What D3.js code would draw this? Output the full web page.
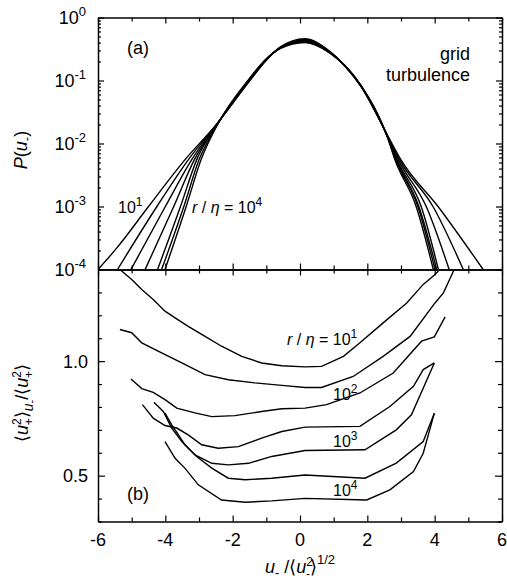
<!DOCTYPE html>
<html>
<head>
<meta charset="utf-8">
<script src="https://cdn.jsdelivr.net/npm/d3@7"></script>
<style>
  body { margin: 0; background: #fff; }
</style>
</head>
<body>
<div id="chart"></div>
<script>
// (a) PDF of u- for r/eta = 10^1, 10^1.5, ... 10^4, pairs [u, P]
const pdfR10 = [[-6.0, 1e-4], [-5.44, 2.2e-4], [-4.5, 1e-3], [-3.42, 5.5e-3], [-2.45, 0.021], [-1.5, 0.098], [-1.0, 0.21], [-0.6, 0.335], [0.15, 0.46], [0.9, 0.285], [1.35, 0.165], [1.8, 0.082], [2.6, 0.0135], [3.0, 5.5e-3], [4.1, 1e-3], [5.44, 1e-4]];
const pdfR15 = [[-5.42, 1e-4], [-4.25, 1e-3], [-3.32, 5.5e-3], [-2.45, 0.021], [-1.5, 0.1], [-1.0, 0.212], [-0.6, 0.332], [0.15, 0.45], [0.9, 0.282], [1.35, 0.166], [1.8, 0.083], [2.6, 0.0133], [2.96, 5.5e-3], [3.95, 1e-3], [4.85, 1e-4]];
const pdfR20 = [[-5.02, 1e-4], [-4.0, 1e-3], [-3.22, 5.5e-3], [-2.45, 0.021], [-1.5, 0.102], [-1.0, 0.214], [-0.6, 0.329], [0.15, 0.44], [0.9, 0.279], [1.35, 0.167], [1.8, 0.083], [2.6, 0.0131], [2.92, 5.5e-3], [3.75, 1e-3], [4.43, 1e-4]];
const pdfR25 = [[-4.6, 1e-4], [-3.75, 1e-3], [-3.14, 5.5e-3], [-2.45, 0.0205], [-1.5, 0.104], [-1.0, 0.216], [-0.6, 0.326], [0.15, 0.43], [0.9, 0.276], [1.35, 0.168], [1.8, 0.084], [2.6, 0.0129], [2.88, 5.5e-3], [3.6, 1e-3], [4.11, 1e-4]];
const pdfR30 = [[-4.23, 1e-4], [-3.55, 1e-3], [-3.07, 5.5e-3], [-2.45, 0.0205], [-1.5, 0.105], [-1.0, 0.218], [-0.6, 0.324], [0.15, 0.42], [0.9, 0.274], [1.35, 0.169], [1.8, 0.084], [2.6, 0.0127], [2.86, 5.5e-3], [3.53, 1e-3], [4.06, 1e-4]];
const pdfR35 = [[-4.11, 1e-4], [-3.45, 1e-3], [-3.0, 5.5e-3], [-2.45, 0.02], [-1.5, 0.106], [-1.0, 0.22], [-0.6, 0.322], [0.15, 0.41], [0.9, 0.272], [1.35, 0.17], [1.8, 0.085], [2.6, 0.0126], [2.84, 5.5e-3], [3.5, 1e-3], [4.01, 1e-4]];
const pdfR40 = [[-4.01, 1e-4], [-3.38, 1e-3], [-2.94, 5.5e-3], [-2.45, 0.02], [-1.5, 0.108], [-1.0, 0.222], [-0.6, 0.32], [0.15, 0.40], [0.9, 0.27], [1.35, 0.17], [1.8, 0.085], [2.6, 0.0125], [2.82, 5.5e-3], [3.45, 1e-3], [3.96, 1e-4]];

// (b) conditional average <u+^2>_{u-}/<u+^2>, pairs [u, value]
const condR10 = [[-5.35, 1.40], [-5.0, 1.356], [-4.7, 1.313], [-4.36, 1.269], [-4.01, 1.218], [-3.71, 1.189], [-3.32, 1.152], [-2.82, 1.108], [-2.33, 1.065], [-1.73, 1.021], [-1.14, 0.992], [-0.54, 0.98], [0.15, 0.975], [0.64, 0.977], [1.29, 1.021], [1.78, 1.08], [2.47, 1.167], [3.17, 1.254], [3.66, 1.335], [4.01, 1.378], [4.11, 1.393]];
const condR15 = [[-5.35, 1.138], [-5.0, 1.124], [-4.7, 1.08], [-4.11, 1.036], [-3.51, 0.992], [-2.82, 0.941], [-2.13, 0.919], [-1.34, 0.905], [-0.54, 0.894], [0.15, 0.885], [0.64, 0.885], [1.58, 0.933], [2.47, 1.021], [3.27, 1.108], [4.01, 1.254], [4.26, 1.298], [4.57, 1.397]];
const condR20 = [[-5.02, 0.922], [-4.7, 0.88], [-4.36, 0.864], [-4.01, 0.832], [-3.66, 0.795], [-3.12, 0.774], [-2.62, 0.758], [-1.93, 0.762], [-1.14, 0.78], [-0.54, 0.792], [0.15, 0.795], [0.79, 0.81], [1.78, 0.861], [2.77, 0.948], [3.61, 1.087], [3.99, 1.106], [4.31, 1.193]];
const condR25 = [[-4.68, 0.81], [-4.36, 0.751], [-4.01, 0.719], [-3.66, 0.708], [-3.32, 0.678], [-2.92, 0.635], [-2.43, 0.62], [-1.83, 0.627], [-1.14, 0.664], [-0.54, 0.693], [0.15, 0.712], [1.78, 0.715], [2.67, 0.802], [3.37, 0.89], [3.66, 0.963], [3.99, 0.992]];
const condR30 = [[-4.34, 0.82], [-4.06, 0.78], [-3.81, 0.708], [-3.51, 0.649], [-3.12, 0.591], [-2.62, 0.554], [-2.13, 0.547], [-1.53, 0.554], [-0.84, 0.584], [0.15, 0.61], [1.93, 0.613], [2.86, 0.70], [3.31, 0.766], [3.99, 0.992]];
const condR35 = [[-4.01, 0.773], [-3.81, 0.722], [-3.61, 0.678], [-3.42, 0.635], [-3.07, 0.584], [-2.62, 0.533], [-2.13, 0.489], [-1.63, 0.482], [-0.84, 0.489], [0.15, 0.503], [1.93, 0.489], [2.86, 0.555], [3.66, 0.649], [3.99, 0.773]];
const condR40 = [[-4.01, 0.649], [-3.71, 0.576], [-3.42, 0.533], [-3.02, 0.46], [-2.33, 0.394], [-1.63, 0.384], [-0.84, 0.39], [0.15, 0.401], [1.98, 0.394], [2.67, 0.438], [3.37, 0.518], [3.66, 0.598], [3.99, 0.773]];

const pdfCurves = [pdfR10, pdfR15, pdfR20, pdfR25, pdfR30, pdfR35, pdfR40];
const condCurves = [condR10, condR15, condR20, condR25, condR30, condR35, condR40];

// ticks
const xTicks = d3.range(-6, 7, 1);
const xLabels = [-6, -4, -2, 0, 2, 4, 6];
const pDecades = [-4, -3, -2, -1, 0];
const condTicks = d3.range(3, 15).map(d => d / 10);
const condLabels = [0.5, 1.0];

const W = 507, H = 579;
const mLeft = 98, mRight = 502, mTop = 17.5, mMid = 269.5, mBottom = 521.5;

const svg = d3.select("#chart").append("svg")
    .attr("width", W)
    .attr("height", H)
    .style("font-family", "'Liberation Sans', Arial, sans-serif");

const x = d3.scaleLinear().domain([-6, 6]).range([mLeft, mRight]);
const yP = d3.scaleLog().domain([1e-4, 1]).range([mMid, mTop]);
const yC = d3.scaleLinear().domain([0.3, 1.4]).range([mBottom, mMid]);

// minor log ticks 1..9 per decade
const pTicks = [];
pDecades.forEach(function (d) {
    for (let k = 1; k < 10; k++) {
        if (d === 0 && k > 1) break;
        pTicks.push(k * Math.pow(10, d));
    }
});

function drawAxis(axis, tx, ty, attr, lenFn) {
    const g = svg.append("g")
        .attr("transform", `translate(${tx},${ty})`)
        .call(axis.tickSize(0).tickSizeOuter(0).tickFormat(""));
    g.selectAll(".tick line").attr(attr, lenFn).attr("stroke-width", 1.2);
    g.selectAll(".tick text").remove();
    g.select(".domain").attr("stroke-width", 1.5);
    return g;
}

const xLen = d => (d % 2 === 0 ? 6 : 4);
const isDecade = d => Math.abs(Math.log10(d) - Math.round(Math.log10(d))) < 1e-9;
const pLen = d => (isDecade(d) ? 6 : 3);
const cLen = d => (condLabels.some(v => Math.abs(v - d) < 1e-9) ? 7 : 4);

// panel (a)
drawAxis(d3.axisTop(x).tickValues(xTicks), 0, mTop, "y2", xLen);
drawAxis(d3.axisBottom(x).tickValues(xTicks), 0, mMid, "y2", d => -xLen(d));
drawAxis(d3.axisLeft(yP).tickValues(pTicks), mLeft, 0, "x2", pLen);
drawAxis(d3.axisRight(yP).tickValues(pTicks), mRight, 0, "x2", d => -pLen(d));

// panel (b)
drawAxis(d3.axisTop(x).tickValues(xTicks), 0, mMid, "y2", xLen);
drawAxis(d3.axisBottom(x).tickValues(xTicks), 0, mBottom, "y2", d => -xLen(d));
drawAxis(d3.axisLeft(yC).tickValues(condTicks), mLeft, 0, "x2", cLen);
drawAxis(d3.axisRight(yC).tickValues(condTicks), mRight, 0, "x2", d => -cLen(d));

// tick labels
svg.append("g").selectAll("text")
    .data(xLabels)
    .enter().append("text")
    .attr("x", d => x(d))
    .attr("y", mBottom + 24)
    .attr("text-anchor", "middle")
    .attr("font-size", 18)
    .text(d => d);

const pLab = svg.append("g").selectAll("text")
    .data(pDecades)
    .enter().append("text")
    .attr("x", 86)
    .attr("y", d => yP(Math.pow(10, d)) + 6)
    .attr("text-anchor", "end")
    .attr("font-size", 18);
pLab.append("tspan").text("10");
pLab.append("tspan").attr("dy", -8).attr("font-size", 13).text(d => d);

svg.append("g").selectAll("text")
    .data(condLabels)
    .enter().append("text")
    .attr("x", 88)
    .attr("y", d => yC(d) + 6.5)
    .attr("text-anchor", "end")
    .attr("font-size", 18)
    .text(d => d3.format(".1f")(d));

// curves
const clipA = svg.append("clipPath").attr("id", "clipA");
clipA.append("rect").attr("x", mLeft).attr("y", mTop).attr("width", mRight - mLeft).attr("height", mMid - mTop);
const clipB = svg.append("clipPath").attr("id", "clipB");
clipB.append("rect").attr("x", mLeft).attr("y", mMid).attr("width", mRight - mLeft).attr("height", mBottom - mMid);

const pdfLine = d3.line()
    .x(d => x(d[0]))
    .y(d => yP(d[1]))
    .curve(d3.curveMonotoneX);

svg.append("g").attr("clip-path", "url(#clipA)")
    .selectAll("path")
    .data(pdfCurves)
    .enter().append("path")
    .attr("d", pdfLine)
    .attr("fill", "none")
    .attr("stroke", "#000")
    .attr("stroke-width", 1.4);

const condLine = d3.line()
    .x(d => x(d[0]))
    .y(d => yC(d[1]));

svg.append("g").attr("clip-path", "url(#clipB)")
    .selectAll("path")
    .data(condCurves)
    .enter().append("path")
    .attr("d", condLine)
    .attr("fill", "none")
    .attr("stroke", "#000")
    .attr("stroke-width", 1.4);

// text helpers
function powText(g, tx, ty, pre, exp, size) {
    const t = g.append("text").attr("x", tx).attr("y", ty).attr("font-size", size);
    if (pre) {
        t.append("tspan").attr("font-style", "italic").text("r");
        t.append("tspan").text(" / ");
        t.append("tspan").attr("font-style", "italic").text("\u03b7");
        t.append("tspan").text(" = ");
    }
    t.append("tspan").text("10");
    t.append("tspan").attr("dy", -7).attr("font-size", size * 0.75).text(exp);
    return t;
}

svg.append("text").attr("x", 127).attr("y", 54).attr("font-size", 18).text("(a)");
svg.append("text").attr("x", 127).attr("y", 500).attr("font-size", 18).text("(b)");
svg.append("text").attr("x", 470).attr("y", 60).attr("font-size", 18).attr("text-anchor", "end").text("grid");
svg.append("text").attr("x", 470).attr("y", 81).attr("font-size", 18).attr("text-anchor", "end").text("turbulence");

powText(svg, 118, 213, false, "1", 16);
powText(svg, 192, 213, true, "4", 16);
powText(svg, 287, 345, true, "1", 16);
powText(svg, 333, 400, false, "2", 16);
powText(svg, 333, 447, false, "3", 16);
powText(svg, 333, 496, false, "4", 16);

// axis titles
const tA = svg.append("text")
    .attr("transform", "translate(27,150) rotate(-90)")
    .attr("text-anchor", "middle")
    .attr("font-size", 18);
tA.append("tspan").attr("font-style", "italic").text("P");
tA.append("tspan").text("(");
tA.append("tspan").attr("font-style", "italic").text("u");
tA.append("tspan").attr("dy", 4).attr("font-size", 13).text("-");
tA.append("tspan").attr("dy", -4).text(")");

function uSq(t, sub) {
    t.append("tspan").attr("font-style", "italic").text("u");
    t.append("tspan").attr("dy", -7).attr("font-size", 12).text("2");
    t.append("tspan").attr("dx", -7).attr("dy", 12).attr("font-size", 12).text(sub);
    t.append("tspan").attr("dy", -5).text("\u27e9");
}

const tB = svg.append("text")
    .attr("transform", "translate(28,403) rotate(-90)")
    .attr("text-anchor", "middle")
    .attr("font-size", 18);
tB.append("tspan").text("\u27e8");
uSq(tB, "+");
tB.append("tspan").attr("dy", 5).attr("font-size", 14).attr("font-style", "italic").text("u");
tB.append("tspan").attr("dy", 2).attr("font-size", 11).text("-");
tB.append("tspan").attr("dy", -7).text("/\u27e8");
uSq(tB, "+");

const tX = svg.append("text")
    .attr("x", 300)
    .attr("y", 573)
    .attr("text-anchor", "middle")
    .attr("font-size", 18);
tX.append("tspan").attr("font-style", "italic").text("u");
tX.append("tspan").attr("dy", 4).attr("font-size", 13).text("-");
tX.append("tspan").attr("dy", -4).text(" /\u27e8");
uSq(tX, "-");
tX.append("tspan").attr("dy", -9).attr("font-size", 13).text("1/2");
</script>
</body>
</html>
